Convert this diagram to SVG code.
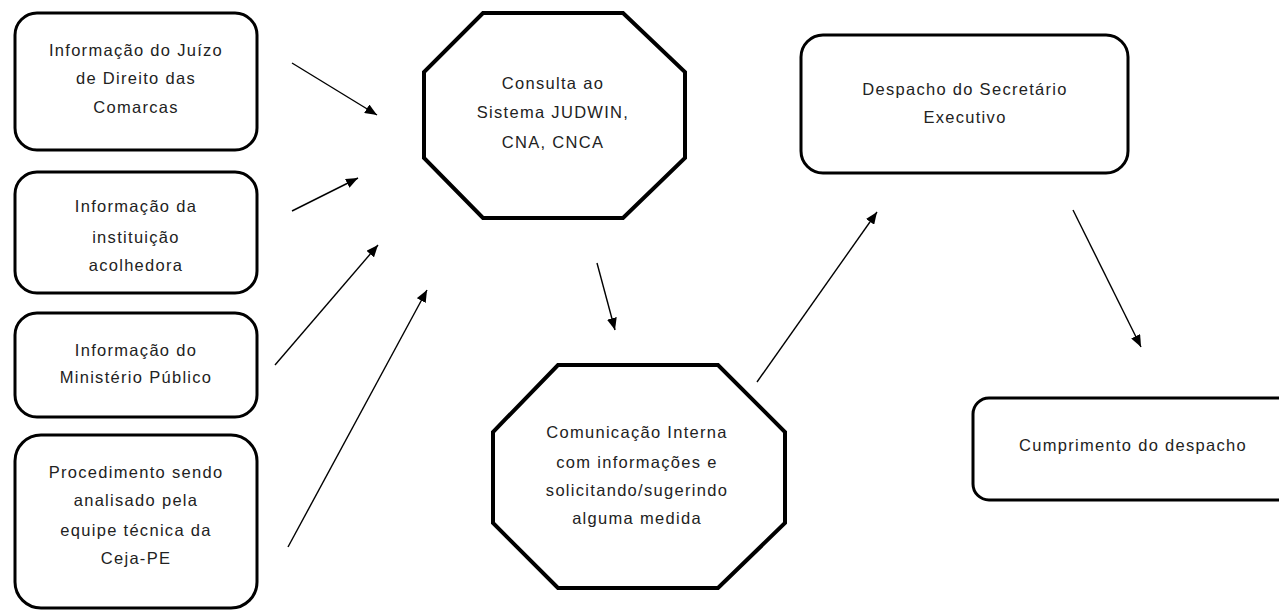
<svg xmlns="http://www.w3.org/2000/svg" width="1279" height="612" viewBox="0 0 1279 612">
<style>
.box{fill:#fff;stroke:#000;stroke-width:3}
.oct{fill:#fff;stroke:#000;stroke-width:4;stroke-linejoin:miter}
.t{font-family:"Liberation Sans",Arial,sans-serif;font-size:16.5px;fill:#222;text-anchor:middle;letter-spacing:1.3px}
.c{stroke:#000;stroke-width:1.4;fill:none;marker-end:url(#ah)}
</style>
<defs>
<marker id="ah" viewBox="0 0 12 10" refX="12" refY="5" markerWidth="12" markerHeight="10" markerUnits="userSpaceOnUse" orient="auto">
<path d="M0,0 L12,5 L0,10 Z" fill="#000"/>
</marker>
</defs>
<rect width="1279" height="612" fill="#fff"/>
<g id="n1">
<rect class="box" x="15" y="13" width="242" height="137" rx="22"/>
<text class="t" x="136" y="56">Informação do Juízo</text>
<text class="t" x="136" y="84">de Direito das</text>
<text class="t" x="136" y="113">Comarcas</text>
</g>
<g id="n2">
<rect class="box" x="15" y="172" width="242" height="121" rx="22"/>
<text class="t" x="136" y="212">Informação da</text>
<text class="t" x="136" y="243">instituição</text>
<text class="t" x="136" y="271">acolhedora</text>
</g>
<g id="n3">
<rect class="box" x="15" y="313" width="242" height="104" rx="22"/>
<text class="t" x="136" y="356">Informação do</text>
<text class="t" x="136" y="383">Ministério Público</text>
</g>
<g id="n4">
<rect class="box" x="15" y="435" width="242" height="173" rx="26"/>
<text class="t" x="136" y="478">Procedimento sendo</text>
<text class="t" x="136" y="506">analisado pela</text>
<text class="t" x="136" y="536">equipe técnica da</text>
<text class="t" x="136" y="564">Ceja-PE</text>
</g>
<g id="n5">
<polygon class="oct" points="483,13 623,13 685,72 685,158 623,218 483,218 424,158 424,72"/>
<text class="t" x="553" y="89">Consulta ao</text>
<text class="t" x="553" y="118">Sistema JUDWIN,</text>
<text class="t" x="553" y="148">CNA, CNCA</text>
</g>
<g id="n6">
<polygon class="oct" points="558,365 718,365 785,432 785,523 718,588 558,588 493,523 493,432"/>
<text class="t" x="637" y="438">Comunicação Interna</text>
<text class="t" x="637" y="468">com informações e</text>
<text class="t" x="637" y="496">solicitando/sugerindo</text>
<text class="t" x="637" y="524">alguma medida</text>
</g>
<g id="n7">
<rect class="box" x="801" y="35" width="327" height="138" rx="22"/>
<text class="t" x="965" y="95">Despacho do Secretário</text>
<text class="t" x="965" y="123">Executivo</text>
</g>
<g id="n8">
<rect class="box" x="973" y="398" width="330" height="102" rx="16"/>
<text class="t" x="1133" y="451">Cumprimento do despacho</text>
</g>
<g id="connectors">
<line class="c" x1="292" y1="63" x2="377" y2="115"/>
<line class="c" x1="292" y1="211" x2="358" y2="178"/>
<line class="c" x1="275" y1="365" x2="378" y2="245"/>
<line class="c" x1="288" y1="547" x2="427" y2="290"/>
<line class="c" x1="597" y1="263" x2="615" y2="330"/>
<line class="c" x1="757" y1="382" x2="877" y2="212"/>
<line class="c" x1="1073" y1="210" x2="1141" y2="347"/>
</g>
</svg>
